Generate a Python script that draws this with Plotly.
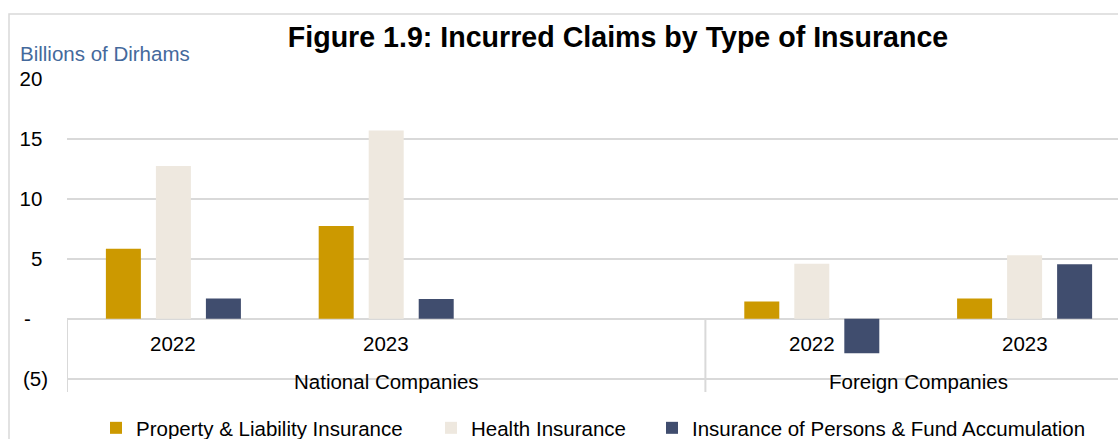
import plotly.graph_objects as go

# ---------------- data ----------------
groups = ["National Companies", "Foreign Companies"]
years = ["2022", "2023"]
series_names = ["Property & Liability Insurance", "Health Insurance",
                "Insurance of Persons & Fund Accumulation"]
property_vals = [5.85, 7.75, 1.45, 1.70]   # N2022, N2023, F2022, F2023
health_vals = [12.75, 15.70, 4.60, 5.30]
persons_vals = [1.70, 1.65, -2.87, 4.55]
y_tickvals = [-5, 0, 5, 10, 15, 20]
y_ticktext = ["(5)", "-\u00a0\u00a0\u00a0", "5\u00a0", "10\u00a0", "15\u00a0", "20\u00a0"]
title_text = "Figure 1.9: Incurred Claims by Type of Insurance"
unit_text = "Billions of Dirhams"

# ---------------- layout constants ----------------
FONT = "Arial, 'Liberation Sans', sans-serif"
colors = ["#CC9900", "#EEE8DF", "#404D6E"]
GRID = "#D9D9D9"
W, H = 1118, 439
ML, MR, MT, MB = 67, 0, 79, 47
PW, PH = W - ML - MR, H - MT - MB
legend_text_px = [136, 471, 692]   # where each legend label starts (pixels)
legend_text_y = 428

# category slots (National group has a spare empty slot, Excel-style)
slot_layout = {"National Companies": years + [""], "Foreign Companies": years}
slots = []
for g in groups:
    for yv in slot_layout[g]:
        slots.append(g + "|" + yv)
data_slots = [g + "|" + yv for g in groups for yv in years]

fig = go.Figure()
legend_ids = ["legend", "legend2", "legend3"]
for name, vals, col, lid in zip(series_names, [property_vals, health_vals, persons_vals],
                                colors, legend_ids):
    fig.add_trace(go.Bar(x=data_slots, y=vals, name=name, legend=lid,
                         marker=dict(color=col, line=dict(width=0))))

# year labels and group labels as annotations on the category axis
annotations = []
for s in data_slots:
    idx = slots.index(s)
    annotations.append(dict(x=idx, y=0, xref="x", yref="y", text=s.split("|")[1],
                            showarrow=False, yanchor="middle", yshift=-25,
                            font=dict(family=FONT, size=20.5, color="#000000")))
for g in groups:
    idxs = [i for i, s in enumerate(slots) if s.startswith(g + "|")]
    annotations.append(dict(x=sum(idxs) / len(idxs), y=0, xref="x", yref="y", text=g,
                            showarrow=False, yanchor="middle", yshift=-63,
                            font=dict(family=FONT, size=20.5, color="#000000")))
    # divider at the left edge of each group
    fig.add_shape(type="line", xref="x", yref="y", x0=min(idxs) - 0.5, x1=min(idxs) - 0.5,
                  y0=0, y1=-6.1, line=dict(color=GRID, width=2), layer="below")

annotations.append(dict(x=(18 - ML) / PW, y=(H - MB - 54) / PH,
                        xref="paper", yref="paper", text=unit_text, showarrow=False,
                        xanchor="left", yanchor="middle",
                        font=dict(family=FONT, size=20.5, color="#44699C")))

# outer light frame
fig.add_shape(type="rect", xref="paper", yref="paper",
              x0=(9 - ML) / PW, x1=1.05,
              y0=-0.4, y1=(H - MB - 14) / PH,
              line=dict(color=GRID, width=1.5), layer="below")

legend_common = dict(orientation="h", xanchor="left", yanchor="middle",
                     y=(H - MB - legend_text_y) / PH,
                     font=dict(family=FONT, size=20.5, color="#000000"),
                     bgcolor="rgba(0,0,0,0)")
legends = {}
for lid, tx in zip(legend_ids, legend_text_px):
    legends[lid] = dict(legend_common, x=(tx - 40 - ML) / PW)

fig.update_layout(
    width=W, height=H,
    margin=dict(l=ML, r=MR, t=MT, b=MB, autoexpand=False),
    paper_bgcolor="white", plot_bgcolor="white",
    barmode="group", bargap=0.295, bargroupgap=0.3,
    title=dict(text="<b>" + title_text + "</b>", x=618 / W, xanchor="center",
               y=1 - 37 / H, yanchor="middle", xref="container", yref="container",
               font=dict(family=FONT, size=28.6, color="#000000")),
    xaxis=dict(type="category", categoryorder="array", categoryarray=slots,
               range=[-0.5, -0.5 + PW / ((1131 - ML) / len(slots))],
               showticklabels=False, showgrid=False, zeroline=False, showline=False,
               ticks="", automargin=False),
    yaxis=dict(range=[-6.1, 20], tickvals=y_tickvals, ticktext=y_ticktext,
               showgrid=True, gridcolor=GRID, gridwidth=2, zeroline=False,
               showline=False, ticks="", ticklabelstandoff=18, automargin=False,
               tickfont=dict(family=FONT, size=20.5, color="#000000")),
    annotations=annotations,
    showlegend=True,
    **legends,
)

fig.write_html("out.html", config={"displayModeBar": False},
               post_script="document.body.style.margin='0';")
